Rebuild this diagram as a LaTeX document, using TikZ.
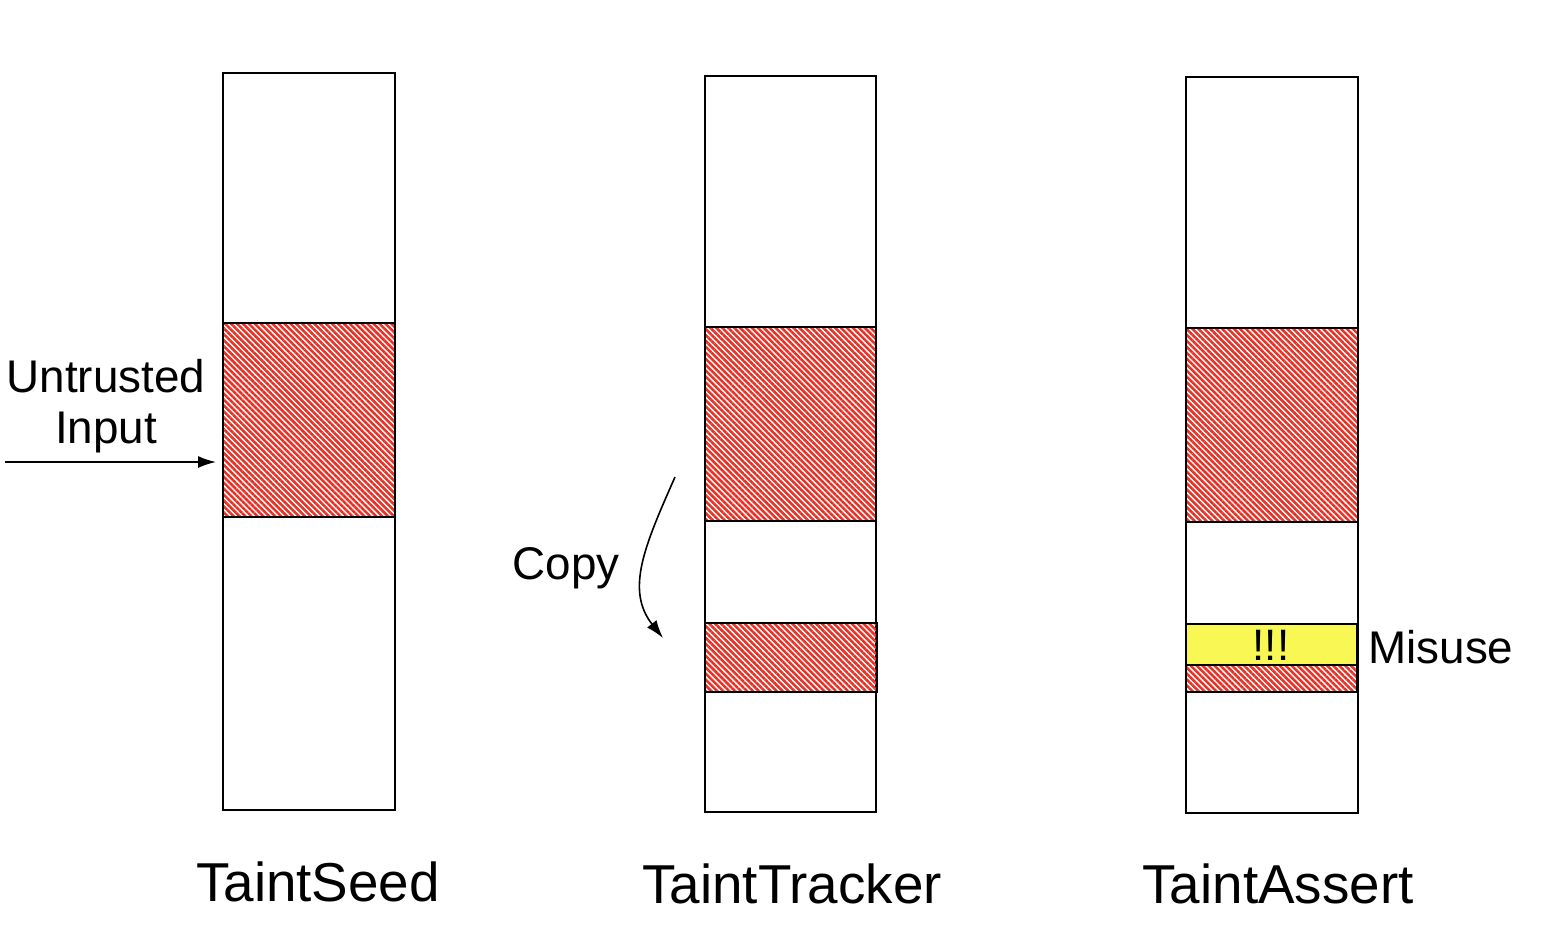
\documentclass[tikz,border=0pt]{standalone}
\usepackage{fontspec}
\setmainfont{Liberation Sans}
\usetikzlibrary{patterns.meta,arrows.meta}
\definecolor{taintred}{RGB}{232,48,36}
\definecolor{misuseyellow}{RGB}{248,247,84}
\tikzset{
  column/.style={draw,line width=1pt,fill=white},
  tainted/.style={draw,line width=1pt,pattern={Lines[angle=-45,distance=2.1pt,line width=1.25pt]},pattern color=taintred},
  caption/.style={font=\fontsize{27.4}{31}\selectfont},
  note/.style={font=\fontsize{22.9}{27}\selectfont}
}
\begin{document}
\begin{tikzpicture}[x=0.5pt,y=-0.5pt]
                \useasboundingbox (0,0) rectangle (1548,942);

                % memory columns
                \draw[column] (223,73) rectangle (395,810);
                \draw[column] (705,76) rectangle (876,812);
                \draw[column] (1186,77) rectangle (1358,813);

                % tainted bytes
                \draw[tainted] (223,323) rectangle (395,517);
                \draw[tainted] (705,327) rectangle (876,521);
                \draw[tainted] (705,623) rectangle (877,692);
                \draw[tainted] (1186,328) rectangle (1358,522);
                \draw[tainted] (1186,665) rectangle (1357,692);
                \draw[line width=1pt,fill=misuseyellow] (1186,624) rectangle (1357,665);

                \node (bang) at (1271,645) [font=\fontsize{22}{26}\selectfont] {!!!};

                \node (untrusted) at (106,376) [note] {Untrusted};
                \node (input) at (106,432) [note] {Input};
                \node (copy) at (566,568) [note] {Copy};
                \node (misuse) at (1368,647) [note,anchor=west,inner sep=0pt] {Misuse};

                \node (seed) at (318,882) [caption] {TaintSeed};
                \node (tracker) at (792,884) [caption] {TaintTracker};
                \node (assert) at (1278,884) [caption] {TaintAssert};

                \coordinate (inStart) at (5,462);
                \coordinate (inEnd) at (216,462);
                \coordinate (copyStart) at (675,477);
                \coordinate (copyEnd) at (663,638);

                \draw[line width=0.8pt,-{Latex[length=9pt,width=6pt]}] (inStart) -- (inEnd);
                \draw[line width=0.8pt,-{Latex[length=9pt,width=6pt]}] (copyStart) .. controls (645,545) and (625,590) .. (copyEnd);
            \end{tikzpicture}
\end{document}
